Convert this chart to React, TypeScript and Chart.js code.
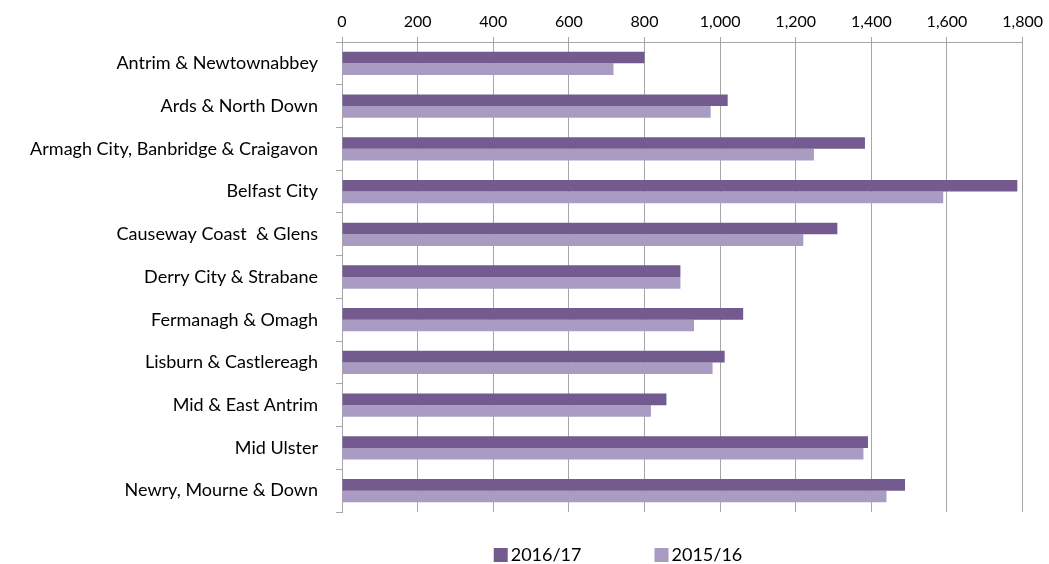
import React, { useEffect, useRef } from "react";
import { Chart, registerables } from "chart.js";

Chart.register(...registerables);

const categories = [
  "Antrim & Newtownabbey",
  "Ards & North Down",
  "Armagh City, Banbridge & Craigavon",
  "Belfast City",
  "Causeway Coast  & Glens",
  "Derry City & Strabane",
  "Fermanagh & Omagh",
  "Lisburn & Castlereagh",
  "Mid & East Antrim",
  "Mid Ulster",
  "Newry, Mourne & Down",
];

const values201617 = [800, 1020, 1383, 1786, 1310, 895, 1061, 1012, 858, 1391, 1489];
const values201516 = [718, 975, 1248, 1590, 1220, 895, 931, 980, 817, 1379, 1440];

const seriesLabels = ["2016/17", "2015/16"];
const seriesColors = ["#735A8F", "#AA9BC3"];

const FONT = "Lato, 'Liberation Sans', sans-serif";

const bottomLegend = {
  id: "bottomLegend",
  afterDraw(chart: any) {
    const ctx = chart.ctx;
    const ds = chart.data.datasets;
    ctx.save();
    ctx.font = `18px ${FONT}`;
    ctx.textBaseline = "middle";
    ctx.textAlign = "left";
    const box = 14;
    const boxGap = 3;
    const itemGap = 73;
    const widths = ds.map((d: any) => box + boxGap + ctx.measureText(d.label).width);
    const total = widths.reduce((a: number, b: number) => a + b, 0) + itemGap * (ds.length - 1);
    const centerX = 618;
    const cy = 555;
    let x = centerX - total / 2;
    ds.forEach((d: any, i: number) => {
      ctx.fillStyle = d.backgroundColor;
      ctx.fillRect(x, cy - box / 2, box, box);
      ctx.fillStyle = "#000";
      ctx.fillText(d.label, x + box + boxGap, cy);
      x += widths[i] + itemGap;
    });
    ctx.restore();
  },
};

export default function App() {
  const ref = useRef<HTMLCanvasElement | null>(null);

  useEffect(() => {
    document.body.style.margin = "0";
    if (!ref.current) return;
    const chart = new Chart(ref.current, {
      type: "bar",
      data: {
        labels: categories,
        datasets: [
          {
            label: seriesLabels[0],
            data: values201617,
            backgroundColor: seriesColors[0],
            categoryPercentage: 0.545,
            barPercentage: 1,
          },
          {
            label: seriesLabels[1],
            data: values201516,
            backgroundColor: seriesColors[1],
            categoryPercentage: 0.545,
            barPercentage: 1,
          },
        ],
      },
      options: {
        indexAxis: "y",
        animation: false,
        responsive: false,
        maintainAspectRatio: false,
        layout: { padding: { left: 0, right: 22, top: 0, bottom: 52 } },
        plugins: {
          legend: { display: false },
          tooltip: { enabled: false },
        },
        scales: {
          x: {
            position: "top",
            min: 0,
            max: 1800,
            afterFit: (s: any) => {
              s.height = 42;
            },
            ticks: {
              stepSize: 200,
              font: { family: FONT, size: 16 },
              color: "#000",
              padding: 6,
              maxRotation: 0,
            },
            grid: {
              color: "#A6A6A6",
              lineWidth: 1,
              tickLength: 5,
              drawTicks: true,
            },
            border: { display: true, color: "#A6A6A6" },
          },
          y: {
            offset: true,
            afterFit: (s: any) => {
              s.width = 342;
            },
            ticks: {
              font: { family: FONT, size: 18 },
              color: "#000",
              padding: 18,
            },
            grid: {
              offset: true,
              drawOnChartArea: false,
              drawTicks: true,
              tickLength: 6,
              color: "#A6A6A6",
            },
            border: { display: true, color: "#A6A6A6" },
          },
        },
      },
      plugins: [bottomLegend],
    });
    return () => chart.destroy();
  }, []);

  return (
    <div style={{ width: 1049, height: 564 }}>
      <canvas ref={ref} width={1049} height={564} style={{ display: "block" }} />
    </div>
  );
}
